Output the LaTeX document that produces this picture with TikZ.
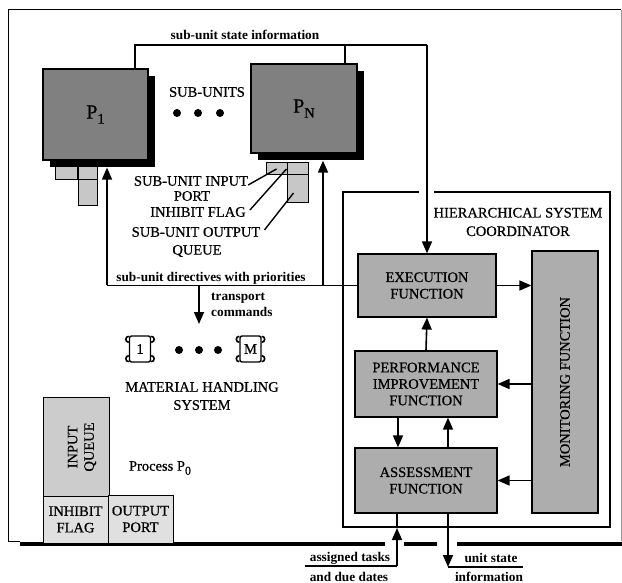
\documentclass[tikz,border=0pt]{standalone}
\usepackage{fontspec}
\setmainfont{Liberation Serif}
\usetikzlibrary{positioning,arrows.meta,shadows,calc}
\newcommand{\capsfont}{\fontsize{14.5}{16.5}\selectfont\addfontfeatures{FakeBold=0.6}}
\newcommand{\lowfont}{\fontsize{13.3}{15.5}\selectfont\bfseries}

\begin{document}
\begin{tikzpicture}[x=1pt,y=-1pt,
    conn/.style={line width=1.6pt},
    arr/.style={conn,-{Triangle[length=12pt,width=10pt]}},
    thinline/.style={line width=1.2pt},
    capslbl/.style={font=\capsfont,inner sep=0pt,align=center},
    lowlbl/.style={font=\lowfont,inner sep=0pt,align=center},
    unitbox/.style={draw,line width=1.2pt,fill=black!50,inner sep=0pt,font=\fontsize{20}{20}\selectfont\addfontfeatures{FakeBold=0.6},
      drop shadow={shadow xshift=7pt,shadow yshift=-7pt,fill=black,opacity=1}},
    funcbox/.style={draw,line width=1.2pt,fill=black!32,capslbl},
    portbox/.style={draw,line width=1pt,fill=black!22,inner sep=0pt},
    pzbox/.style={draw,line width=0.8pt,fill=black!12,capslbl},
    vehbox/.style={draw,line width=1.4pt,rounded corners=2pt,minimum width=21pt,minimum height=26pt,font=\capsfont,inner sep=0pt}]
  \useasboundingbox (0,0) rectangle (622,583);
  % frame
  \draw[line width=1pt] (8,541) -- (8,10) -- (621,10);
  \draw[line width=0.6pt,black!40] (621,10) -- (621,541);
  \draw[line width=0.8pt] (8,541) -- (20,541);
  \draw[line width=4pt] (20,544) -- (385,544) (404,544) -- (437,544) (457,544) -- (622,544);

  % sub-units
  \node[unitbox,minimum width=105pt,minimum height=91pt] (P1) at (95.5,114.5) {P\raisebox{-5pt}{\capsfont 1}};
  \node[unitbox,minimum width=106pt,minimum height=89pt] (PN) at (304,108.5) {P\raisebox{-5pt}{\capsfont N}};
  \node[portbox,minimum width=22pt,minimum height=13pt] (in1) at (66,173.5) {};
  \node[portbox,minimum width=19pt,minimum height=13pt] (fl1) at (87.5,173.5) {};
  \node[portbox,minimum width=19pt,minimum height=26pt] (q1) at (87.5,193) {};
  \node[portbox,minimum width=21pt,minimum height=12pt] (inN) at (276.5,169) {};
  \node[portbox,minimum width=21pt,minimum height=12pt] (flN) at (297.5,169) {};
  \node[portbox,minimum width=21pt,minimum height=28pt] (qN) at (297.5,189) {};
  \node[capslbl] (subLbl) at (207,92) {SUB-UNITS};
  \foreach \x in {177,198,220} {\fill (\x,113) circle (4pt);}
  \node[capslbl] (lbIn) at (191,181) {SUB-UNIT INPUT};
  \node[capslbl] (lbPort) at (192,196) {PORT};
  \node[capslbl] (lbFlag) at (198,212) {INHIBIT FLAG};
  \node[capslbl] (lbOut) at (196,232) {SUB-UNIT OUTPUT};
  \node[capslbl] (lbQueue) at (197,251) {QUEUE};
  \draw[line width=1.4pt] ($(lbIn.east)+(0,4)$) -- (inN.center);
  \draw[line width=1.4pt] ($(lbFlag.east)+(4,-2)$) -- (flN.west);
  \draw[line width=1.4pt] ($(lbOut.east)+(4,-2)$) -- ($(qN.center)+(-4,4)$);

  % coordinator
  \draw[line width=1.8pt] (419,192) -- (343,192) -- (343,527) -- (610,527) -- (610,192) -- (434,192);
  \node[capslbl] (hscLbl) at (518,222) {HIERARCHICAL SYSTEM\\[2pt]COORDINATOR};
  \node[funcbox,minimum width=138pt,minimum height=63pt] (exe) at (427,285.5) {EXECUTION\\FUNCTION};
  \node[funcbox,minimum width=142pt,minimum height=66pt] (perf) at (426,384) {PERFORMANCE\\IMPROVEMENT\\FUNCTION};
  \node[funcbox,minimum width=142pt,minimum height=65pt] (assess) at (426,480.5) {ASSESSMENT\\FUNCTION};
  \node[funcbox,minimum width=66pt,minimum height=262pt] (mon) at (565,382) {};
  \node[capslbl,rotate=90] (monLbl) at (mon.center) {MONITORING FUNCTION};
  \draw[arr] (exe.east) -- (exe.east -| mon.west);
  \draw[arr] (perf.north) -- (exe.south);
  \draw[arr] (mon.west |- perf.east) -- (perf.east);
  \draw[arr] (mon.west |- assess.east) -- (assess.east);
  \draw[arr] ($(perf.south)+(-28,0)$) -- ($(assess.north)+(-28,0)$);
  \draw[arr] ($(assess.north)+(22,0)$) -- ($(perf.south)+(22,0)$);

  % state information
  \coordinate (stL) at (135,45);
  \coordinate (stR) at (427,45);
  \coordinate (stN) at (345,45);
  \draw[conn] (P1.north -| stL) -- (stL) -- (stR);
  \draw[conn] (stN) -- (stN |- PN.north);
  \draw[arr] (stR) -- (exe.north);
  \node[lowlbl,anchor=base] (stLbl) at (245,40) {sub-unit state information};

  % directives
  \coordinate (dirL) at (107,285.5);
  \coordinate (dirM) at (199,285.5);
  \coordinate (dirN) at (323,285.5);
  \coordinate (mhsTop) at (199,324);
  \draw[conn] (exe.west) -- (dirL);
  \draw[arr] (dirL) -- ($(dirL |- P1.south)+(0,7)$);
  \draw[arr] (dirN) -- ($(dirN |- PN.south)+(0,7)$);
  \draw[arr] (dirM) -- (mhsTop);
  \node[lowlbl,anchor=base] (dirLbl) at (211,281) {sub-unit directives with priorities};
  \node[lowlbl,align=left,anchor=west] (trLbl) at (211,305) {transport\\commands};

  % material handling
  \node[vehbox] (mh1) at (140,349) {1};
  \node[vehbox] (mhM) at (250.5,349) {M};
  \foreach \v in {mh1,mhM} {
    \draw[line width=1.6pt] ($(\v.north west)+(0,1)$) arc[start angle=270,end angle=90,radius=3];
    \draw[line width=1.6pt] ($(\v.south west)+(0,-7)$) arc[start angle=270,end angle=90,radius=3];
    \draw[line width=1.6pt] ($(\v.north east)+(0,1)$) arc[start angle=270,end angle=450,radius=3];
    \draw[line width=1.6pt] ($(\v.south east)+(0,-7)$) arc[start angle=270,end angle=450,radius=3];
  }
  \foreach \x in {179,199,218} {\fill (\x,350) circle (4pt);}
  \node[capslbl] (mhsLbl) at (202,396) {MATERIAL HANDLING\\[1.5pt]SYSTEM};

  % process P0
  \node[pzbox,fill=black!20,line width=1pt,minimum width=66pt,minimum height=99pt] (iq) at (76,446.5) {};
  \node[capslbl,rotate=90] (iqLbl) at (82,447) {INPUT\\QUEUE};
  \node[pzbox,minimum width=65pt,minimum height=47pt] (ifl) at (75.5,519.5) {INHIBIT\\FLAG};
  \node[pzbox,minimum width=65pt,minimum height=48pt] (op) at (140.5,519) {OUTPUT\\PORT};
  \node[capslbl] (p0Lbl) at (160,468) {Process P\raisebox{-4pt}{\fontsize{12}{12}\selectfont 0}};

  % external flows
  \coordinate (tkL) at (305,566);
  \coordinate (tkC) at (397,566);
  \coordinate (tkT) at (397,528);
  \draw[thinline] (tkL) -- (tkC);
  \draw[arr] (tkC) -- (tkT);
  \draw[conn] (tkT) -- (tkT |- assess.south);
  \node[lowlbl,anchor=base] (tkLbl) at (350,561) {assigned tasks};
  \node[lowlbl] (tk2Lbl) at (349,577) {and due dates};
  \coordinate (usT) at (448,567);
  \coordinate (usR) at (523,567);
  \draw[arr] (usT |- assess.south) -- (usT);
  \draw[thinline] (usT) -- (usR);
  \node[lowlbl,anchor=base] (usLbl) at (491,562) {unit state};
  \node[lowlbl] (us2Lbl) at (489,577) {information};
\end{tikzpicture}
\end{document}
